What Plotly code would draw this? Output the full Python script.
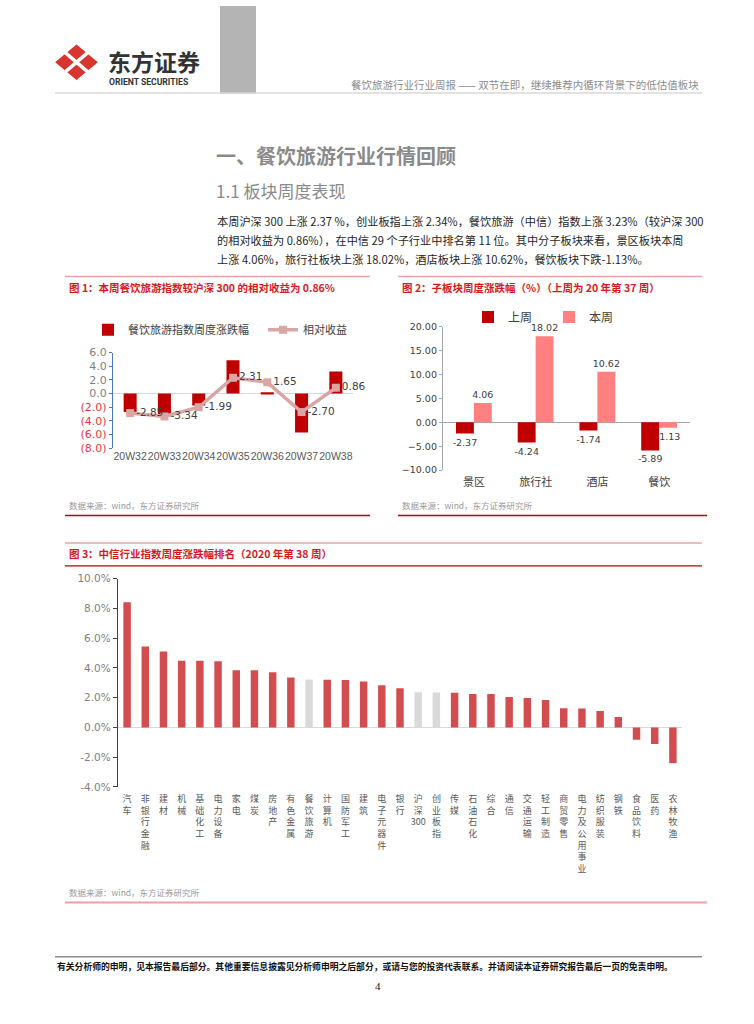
import plotly.graph_objects as go

W, H = 754, 1024
def X(px): return px / W
def Y(py): return 1 - py / H

# ---------------- data ----------------
# Chart 1
weeks = ["20W32", "20W33", "20W34", "20W35", "20W36", "20W37", "20W38"]
index_chg = [-2.70, -3.05, -1.75, 4.86, 0.20, -5.70, 3.23]
rel_ret = [-2.85, -3.34, -1.99, 2.31, 1.65, -2.70, 0.86]
y1_ticks = [6, 4, 2, 0, -2, -4, -6, -8]
y1_labels = ["6.0", "4.0", "2.0", "0.0", "(2.0)", "(4.0)", "(6.0)", "(8.0)"]

# Chart 2
segments = ["景区", "旅行社", "酒店", "餐饮"]
last_week = [-2.37, -4.24, -1.74, -5.89]
this_week = [4.06, 18.02, 10.62, -1.13]
y2_ticks = [20, 15, 10, 5, 0, -5, -10]
y2_labels = ["20.00", "15.00", "10.00", "5.00", "0.00", "−5.00", "−10.00"]

# Chart 3
industries = ["汽车", "非银行金融", "建材", "机械", "基础化工", "电力设备", "家电", "煤炭",
              "房地产", "有色金属", "餐饮旅游", "计算机", "国防军工", "建筑", "电子元器件",
              "银行", "沪深300", "创业板指", "传媒", "石油石化", "综合", "通信", "交通运输",
              "轻工制造", "商贸零售", "电力及公用事业", "纺织服装", "钢铁", "食品饮料", "医药", "农林牧渔"]
ind_chg = [8.42, 5.44, 5.11, 4.49, 4.49, 4.44, 3.84, 3.84,
           3.71, 3.36, 3.23, 3.20, 3.18, 3.09, 2.84,
           2.64, 2.37, 2.34, 2.33, 2.25, 2.24, 2.04, 1.98,
           1.84, 1.29, 1.28, 1.11, 0.71, -0.82, -1.11, -2.40]
highlight = ["餐饮旅游", "沪深300", "创业板指"]
y3_ticks = [10, 8, 6, 4, 2, 0, -2, -4]
y3_labels = ["10.0%", "8.0%", "6.0%", "4.0%", "2.0%", "0.0%", "-2.0%", "-4.0%"]

# ---------------- styles ----------------
CJK = "Noto Sans CJK SC"
NUM = "DejaVu Sans"
DARK_RED = "#C00000"
PINK = "#FF8080"
LINE_PINK = "#D9A5A5"
BAR3 = "#D24D4F"
GREY3 = "#D9D9D9"
TITLE_RED = "#D7191C"


def stack(label):
    parts, buf = [], ""
    for ch in label:
        if ch.isascii():
            buf += ch
        else:
            if buf:
                parts.append(buf)
                buf = ""
            parts.append(ch)
    if buf:
        parts.append(buf)
    return "<br>".join(parts)


fig = go.Figure()

# Chart 1
fig.add_trace(go.Bar(x=weeks, y=index_chg, name="餐饮旅游指数周度涨跌幅", width=0.38,
                     marker=dict(color=DARK_RED, line=dict(width=0)),
                     xaxis="x", yaxis="y", legend="legend"))
fig.add_trace(go.Scatter(x=weeks, y=rel_ret, name="相对收益", mode="lines+markers+text",
                         line=dict(color=LINE_PINK, width=3.5),
                         marker=dict(symbol="square", size=8, color=LINE_PINK),
                         texttemplate="%{y:.2f}", textposition="middle right",
                         textfont=dict(family=NUM, size=10.5, color="#404040"),
                         cliponaxis=False, xaxis="x", yaxis="y", legend="legend"))

# Chart 2
fig.add_trace(go.Bar(x=segments, y=last_week, name="上周", width=0.29, offset=-0.29,
                     marker=dict(color=DARK_RED, line=dict(width=0)),
                     texttemplate="%{y:.2f}", textposition="outside", constraintext="none",
                     textfont=dict(family=NUM, size=9.5, color="#404040"),
                     cliponaxis=False, xaxis="x2", yaxis="y2", legend="legend2"))
fig.add_trace(go.Bar(x=segments, y=this_week, name="本周", width=0.29, offset=0.0,
                     marker=dict(color=PINK, line=dict(width=0)),
                     texttemplate="%{y:.2f}", textposition="outside", constraintext="none",
                     textfont=dict(family=NUM, size=9.5, color="#404040"),
                     cliponaxis=False, xaxis="x2", yaxis="y2", legend="legend2"))

# Chart 3
colors3 = [GREY3 if c in highlight else BAR3 for c in industries]
fig.add_trace(go.Bar(x=industries, y=ind_chg, width=0.41, showlegend=False,
                     marker=dict(color=colors3, line=dict(width=0)),
                     xaxis="x3", yaxis="y3"))

y1_text = [f'<span style="color:#E83A3A">{t}</span>' if v < 0 else t
           for v, t in zip(y1_ticks, y1_labels)]

fig.update_layout(
    width=W, height=H, margin=dict(l=0, r=0, t=0, b=0),
    paper_bgcolor="white", plot_bgcolor="white",
    font=dict(family=CJK, color="#404040"),
    barmode="overlay",
    xaxis=dict(domain=[X(113), X(353)], anchor="y", range=[-0.5, 6.5],
               showline=False, ticks="", showgrid=False, tickangle=0,
               tickfont=dict(family="Liberation Sans", size=10.5, color="#595959")),
    yaxis=dict(domain=[Y(448), Y(351)], anchor="x", range=[-8, 6],
               tickmode="array", tickvals=y1_ticks, ticktext=y1_text,
               showline=True, linecolor="#4A78C2", linewidth=1.3,
               ticks="outside", ticklen=3, tickcolor="#4A78C2",
               showgrid=False, zeroline=True, zerolinecolor="#D9D9D9", zerolinewidth=1,
               tickfont=dict(family=NUM, size=11, color="#7F7F7F")),
    xaxis2=dict(domain=[X(443), X(690)], anchor="y2", range=[-0.5, 3.5],
                showline=False, ticks="", showgrid=False, tickangle=0,
                ticklabelstandoff=4,
                tickfont=dict(family=CJK, size=11, color="#404040")),
    yaxis2=dict(domain=[Y(470), Y(325)], anchor="x2", range=[-10, 20],
                tickmode="array", tickvals=y2_ticks, ticktext=y2_labels,
                showline=True, linecolor="#A6A6A6", linewidth=1.3,
                ticks="outside", ticklen=3, tickcolor="#A6A6A6",
                showgrid=False, zeroline=True, zerolinecolor="#A6A6A6", zerolinewidth=1,
                tickfont=dict(family=NUM, size=9.5, color="#404040")),
    xaxis3=dict(domain=[X(118), X(682)], anchor="y3", range=[-0.5, len(industries) - 0.5],
                tickmode="array", tickvals=industries,
                ticktext=[stack(c) for c in industries],
                showline=False, ticks="", showgrid=False, tickangle=0,
                ticklabelstandoff=5,
                tickfont=dict(family=CJK, size=9, color="#595959")),
    yaxis3=dict(domain=[Y(791), Y(580)], anchor="x3", range=[-4, 10],
                tickmode="array", tickvals=y3_ticks, ticktext=y3_labels,
                showline=True, linecolor="#404040", linewidth=1.3,
                ticks="outside", ticklen=4, tickcolor="#404040",
                showgrid=False, zeroline=True, zerolinecolor="#D9D9D9", zerolinewidth=1,
                tickfont=dict(family=NUM, size=10.5, color="#7F7F7F")),
    legend=dict(orientation="h", x=X(88), y=Y(328), xanchor="left", yanchor="middle",
                font=dict(family=CJK, size=11, color="#404040"),
                entrywidth=130, entrywidthmode="pixels", bgcolor="rgba(0,0,0,0)",
                itemwidth=30, tracegroupgap=0),
    legend2=dict(orientation="h", x=X(468), y=Y(315), xanchor="left", yanchor="middle",
                 font=dict(family=CJK, size=12, color="#404040"),
                 entrywidth=36, entrywidthmode="pixels", bgcolor="rgba(0,0,0,0)",
                 itemwidth=30),
)

shapes = []
ann = []


def hline(x0, x1, y, color, w=1.2):
    shapes.append(dict(type="line", xref="paper", yref="paper",
                       x0=X(x0), x1=X(x1), y0=Y(y), y1=Y(y),
                       line=dict(color=color, width=w)))


def text(t, x, y, size, color, bold=False, anchor="left", family=CJK):
    if bold:
        t = "<b>" + t + "</b>"
    ann.append(dict(text=t, x=X(x), y=Y(y), xref="paper", yref="paper",
                    xanchor=anchor, yanchor="middle", showarrow=False,
                    font=dict(family=family, size=size, color=color)))


# header
shapes.append(dict(type="rect", xref="paper", yref="paper", x0=X(220), x1=X(256),
                   y0=Y(89), y1=Y(0), fillcolor="#B4B4B4", line=dict(width=0), layer="below"))
hline(55, 702, 88, "#D9D9D9", 1.5)
cx, cy, hw, hh = 76.5, 57, 19, 16
p = lambda a, b: f"{X(a)},{Y(b)}"
shapes.append(dict(type="path", xref="paper", yref="paper",
                   path=f"M {p(cx-hw, cy)} L {p(cx, cy-hh)} L {p(cx+hw, cy)} L {p(cx, cy+hh)} Z",
                   fillcolor="#D9352F", line=dict(color="#D9352F", width=3)))
for (a0, b0, a1, b1) in [(cx - hw/2 - 2, cy + hh/2 + 2, cx + hw/2 + 2, cy - hh/2 - 2),
                         (cx - hw/2 - 2, cy - hh/2 - 2, cx + hw/2 + 2, cy + hh/2 + 2)]:
    shapes.append(dict(type="line", xref="paper", yref="paper",
                       x0=X(a0), y0=Y(b0), x1=X(a1), y1=Y(b1),
                       line=dict(color="white", width=3.5)))
text("东方证券", 106, 55.5, 23, "#333333", bold=True)
text("ORIENT SECURITIES", 107, 77, 8.6, "#333333", bold=True, family="Roboto")
text("餐饮旅游行业行业周报 —— 双节在即，继续推荐内循环背景下的低估值板块", 701, 80, 10.5,
     "#8C8C8C", anchor="right")

# section
text("一、餐饮旅游行业行情回顾", 214, 151, 20, "#8A8A8A", bold=True)
text("1.1 板块周度表现", 214, 187, 17, "#8A8A8A")
para = ["本周沪深 300 上涨 2.37 %，创业板指上涨 2.34%，餐饮旅游（中信）指数上涨 3.23%（较沪深 300",
        "的相对收益为 0.86%），在中信 29 个子行业中排名第 11 位。其中分子板块来看，景区板块本周",
        "上涨 4.06%，旅行社板块上涨 18.02%，酒店板块上涨 10.62%，餐饮板块下跌-1.13%。"]
for i, line in enumerate(para):
    text(line, 215, 218 + 19.3 * i, 11.2, "#262626")

# chart boxes
hline(65, 370, 274, "#E8A3A3", 1.5)
hline(65, 370, 516, DARK_RED, 1.5)
text("图 1：本周餐饮旅游指数较沪深 300 的相对收益为 0.86%", 67, 285, 10.5, TITLE_RED, bold=True)
text("数据来源：wind，东方证券研究所", 67, 505, 8.5, "#9A9A9A")

hline(398, 702, 274, "#E8A3A3", 1.5)
hline(398, 707, 516, DARK_RED, 1.5)
text("图 2：子板块周度涨跌幅（%）（上周为 20 年第 37 周）", 400, 285, 10.5, TITLE_RED, bold=True)
text("数据来源：wind，东方证券研究所", 400, 505, 8.5, "#9A9A9A")

hline(65, 702, 544, "#E8A3A3", 1.5)
hline(65, 702, 567, DARK_RED, 1.2)
hline(65, 707, 908, "#E8A3A3", 2)
text("图 3：中信行业指数周度涨跌幅排名（2020 年第 38 周）", 67, 555, 10.5, TITLE_RED, bold=True)
text("数据来源：wind，东方证券研究所", 67, 897, 8.5, "#9A9A9A")

# footer
hline(55, 702, 963, "#8C8C8C", 1.5)
text("有关分析师的申明，见本报告最后部分。其他重要信息披露见分析师申明之后部分，或请与您的投资代表联系。并请阅读本证券研究报告最后一页的免责申明。",
     55, 973, 8.8, "#111111", bold=True)
text("4", 378, 993, 11, "#111111", anchor="center", family="Liberation Serif")

fig.update_layout(shapes=shapes, annotations=ann)
fig.write_html("out.html", config={"displayModeBar": False},
               post_script="document.body.style.margin='0';document.body.style.overflow='hidden';")
